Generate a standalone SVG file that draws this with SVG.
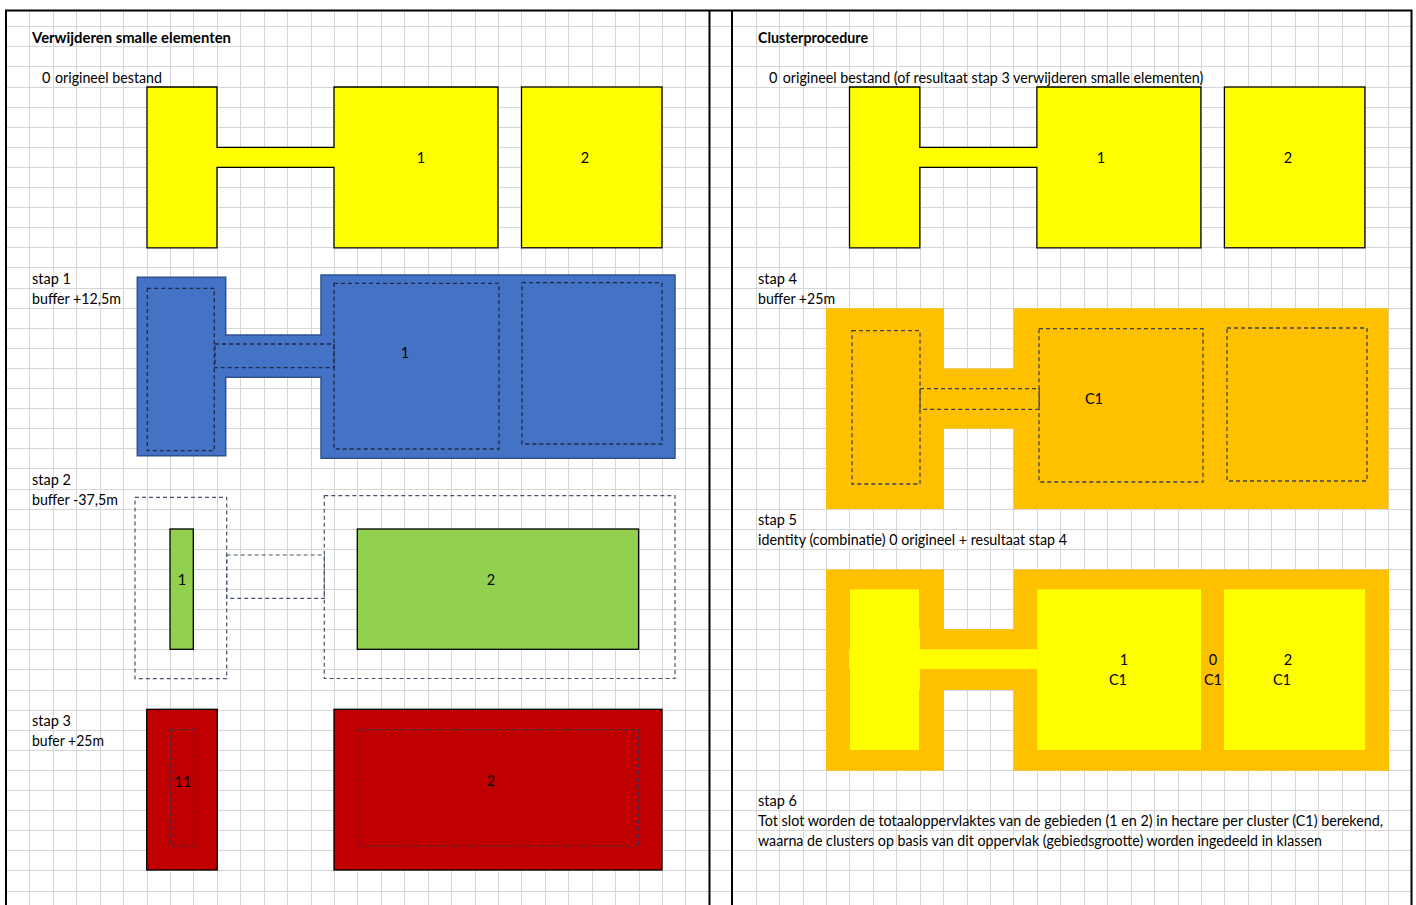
<svg xmlns="http://www.w3.org/2000/svg" width="1416" height="905" viewBox="0 0 1416 905">
<style>
text{font-family:Lato,"Noto Sans","Liberation Sans",sans-serif;font-size:14.5px;fill:#000}
.b{font-weight:bold}
.m{text-anchor:middle}
.e{text-anchor:end}
.grid{stroke:#d6d6d6;stroke-width:1;fill:none}
.frame{stroke:#000;stroke-width:2;fill:none}
.yel{fill:#ffff00;stroke:#000;stroke-width:1.3}
.blue{fill:#4472c4;stroke:#2f528f;stroke-width:1.5}
.green{fill:#92d050;stroke:#000;stroke-width:1.3}
.red{fill:#c00000;stroke:#000;stroke-width:1.3}
.org{fill:#ffc000}
.yf{fill:#ffff00}
.d1{fill:none;stroke:#1f2b45;stroke-width:1.3;stroke-dasharray:4 3}
.d2{fill:none;stroke:#44546a;stroke-width:1.2;stroke-dasharray:4 3}
.d3{fill:none;stroke:#3b2f4a;stroke-width:1.2;stroke-dasharray:4 3}
.d4{fill:none;stroke:#3d4355;stroke-width:1.3;stroke-dasharray:4 3}
</style>
<rect width="1416" height="905" fill="#fff"/>
<g id="grid">
<path class="grid" d="M29.5 10V905M53.5 10V905M76.5 10V905M100.5 10V905M123.5 10V905M147.5 10V905M170.5 10V905M193.5 10V905M217.5 10V905M240.5 10V905M264.5 10V905M287.5 10V905M311.5 10V905M334.5 10V905M357.5 10V905M381.5 10V905M404.5 10V905M428.5 10V905M451.5 10V905M475.5 10V905M498.5 10V905M521.5 10V905M545.5 10V905M568.5 10V905M592.5 10V905M615.5 10V905M639.5 10V905M662.5 10V905M685.5 10V905M756.5 10V905M779.5 10V905M803.5 10V905M826.5 10V905M849.5 10V905M873.5 10V905M896.5 10V905M920.5 10V905M943.5 10V905M967.5 10V905M990.5 10V905M1013.5 10V905M1037.5 10V905M1060.5 10V905M1084.5 10V905M1107.5 10V905M1131.5 10V905M1154.5 10V905M1178.5 10V905M1201.5 10V905M1224.5 10V905M1248.5 10V905M1271.5 10V905M1295.5 10V905M1318.5 10V905M1342.5 10V905M1365.5 10V905M1388.5 10V905"/>
<path class="grid" d="M6 26.5H1412M6 46.5H1412M6 66.5H1412M6 87.5H1412M6 107.5H1412M6 127.5H1412M6 147.5H1412M6 167.5H1412M6 187.5H1412M6 207.5H1412M6 227.5H1412M6 247.5H1412M6 267.5H1412M6 288.5H1412M6 308.5H1412M6 328.5H1412M6 348.5H1412M6 368.5H1412M6 388.5H1412M6 408.5H1412M6 428.5H1412M6 448.5H1412M6 468.5H1412M6 489.5H1412M6 509.5H1412M6 529.5H1412M6 549.5H1412M6 569.5H1412M6 589.5H1412M6 609.5H1412M6 629.5H1412M6 649.5H1412M6 669.5H1412M6 690.5H1412M6 710.5H1412M6 730.5H1412M6 750.5H1412M6 770.5H1412M6 790.5H1412M6 810.5H1412M6 830.5H1412M6 850.5H1412M6 870.5H1412M6 891.5H1412"/>
<path class="frame" d="M5 10.5H1412.5M6 10V905M709.5 10V905M732 10V905M1411.5 10V905"/>
</g>

<g id="left-title">
<text class="b" x="32" y="43" textLength="199" lengthAdjust="spacingAndGlyphs">Verwijderen smalle elementen</text>
<text class="e" x="50.5" y="83">0</text>
<text x="55" y="83" textLength="107" lengthAdjust="spacingAndGlyphs">origineel bestand</text>
</g>
<g id="left-original">
<path class="yel" d="M147 87H217V147.3H334V87H498V247.8H334V167.4H217V247.8H147Z"/>
<rect class="yel" x="521.5" y="87" width="140.5" height="160.8"/>
<text class="m" x="421" y="163">1</text>
<text class="m" x="585" y="163">2</text>
</g>
<g id="stap1">
<text x="32" y="284">stap 1</text>
<text x="32" y="304" textLength="89" lengthAdjust="spacingAndGlyphs">buffer +12,5m</text>
<path class="blue" d="M137.3 277.3H225.7V335H321V275H675V458.3H321V377.3H225.7V455.7H137.3Z"/>
<rect class="d1" x="147.3" y="288.3" width="67" height="162.4"/>
<rect class="d1" x="215" y="344" width="119" height="23.7"/>
<rect class="d1" x="334" y="283.3" width="165" height="165.7"/>
<rect class="d1" x="522" y="282.7" width="140" height="161.3"/>
<text class="m" x="405" y="358">1</text>
</g>
<g id="stap2">
<text x="32" y="485">stap 2</text>
<text x="32" y="505" textLength="86" lengthAdjust="spacingAndGlyphs">buffer -37,5m</text>
<rect class="d2" x="135" y="497.3" width="91.7" height="181.4"/>
<rect class="d2" x="226.7" y="555" width="97.6" height="43.3"/>
<rect class="d2" x="324.3" y="495.7" width="350.7" height="182.8"/>
<rect class="green" x="170" y="529" width="23.3" height="120.3"/>
<rect class="green" x="357.3" y="529" width="281.3" height="120.3"/>
<text class="m" x="182" y="585">1</text>
<text class="m" x="491" y="585">2</text>
</g>
<g id="stap3">
<text x="32" y="726">stap 3</text>
<text x="32" y="746" textLength="72" lengthAdjust="spacingAndGlyphs">bufer +25m</text>
<rect class="red" x="146.7" y="709.3" width="70.6" height="160.7"/>
<rect class="d3" x="170.3" y="729.7" width="25" height="116.3"/>
<rect class="red" x="334" y="709.3" width="328" height="160.7"/>
<rect class="d3" x="357.7" y="729.7" width="280.9" height="116.3"/>
<text class="m" x="183" y="787">11</text>
<text class="m" x="491" y="786">2</text>
</g>

<g id="right-title">
<text class="b" x="758" y="43" textLength="110" lengthAdjust="spacingAndGlyphs">Clusterprocedure</text>
<text class="e" x="777.5" y="83">0</text>
<text x="782.7" y="83" textLength="420.6" lengthAdjust="spacingAndGlyphs">origineel bestand (of resultaat stap 3 verwijderen smalle elementen)</text>
</g>
<g id="right-original">
<path class="yel" d="M849.5 87H919.8V147.3H1036.9V87H1200.9V247.8H1036.9V167.4H919.8V247.8H849.5Z"/>
<rect class="yel" x="1224.4" y="87" width="140.5" height="160.8"/>
<text class="m" x="1101" y="163">1</text>
<text class="m" x="1288" y="163">2</text>
</g>
<g id="stap4">
<text x="758" y="284">stap 4</text>
<text x="758" y="304" textLength="77" lengthAdjust="spacingAndGlyphs">buffer +25m</text>
<path class="org" d="M826 308.3H944V368.4H1013.5V308.3H1388.4V509H1013.5V428.7H944V509H826Z"/>
<rect class="d4" x="852" y="330.7" width="68" height="153.3"/>
<rect class="d4" x="920" y="388.7" width="119.3" height="20.6"/>
<rect class="d4" x="1039" y="328.7" width="164" height="153.3"/>
<rect class="d4" x="1227" y="328" width="140" height="153"/>
<text class="m" x="1094" y="404">C1</text>
</g>
<g id="stap5">
<text x="758" y="525">stap 5</text>
<text x="758" y="545" textLength="309" lengthAdjust="spacingAndGlyphs">identity (combinatie) 0 origineel + resultaat stap 4</text>
<path class="org" d="M826 569.4H944V629H1013.5V569.4H1389V770.7H1013.5V690H944V770.7H826Z"/>
<rect class="yf" x="850" y="589.3" width="69" height="160.7"/>
<rect class="yf" x="850" y="629" width="70" height="60"/>
<rect class="yf" x="849" y="649.3" width="188.3" height="19.7"/>
<rect class="yf" x="1037.3" y="589.3" width="163.7" height="160.7"/>
<rect class="yf" x="1224" y="589.3" width="141" height="160.7"/>
<text class="m" x="1124" y="665">1</text>
<text class="m" x="1118" y="685">C1</text>
<text class="m" x="1213" y="665">0</text>
<text class="m" x="1213" y="685">C1</text>
<text class="m" x="1288" y="665">2</text>
<text class="m" x="1282" y="685">C1</text>
</g>
<g id="stap6">
<text x="758" y="806">stap 6</text>
<text x="758" y="826" textLength="625" lengthAdjust="spacingAndGlyphs">Tot slot worden de totaaloppervlaktes van de gebieden (1 en 2)  in hectare per cluster (C1) berekend,</text>
<text x="758" y="846" textLength="564" lengthAdjust="spacingAndGlyphs">waarna de clusters op basis van dit oppervlak (gebiedsgrootte) worden ingedeeld in klassen</text>
</g>
</svg>
